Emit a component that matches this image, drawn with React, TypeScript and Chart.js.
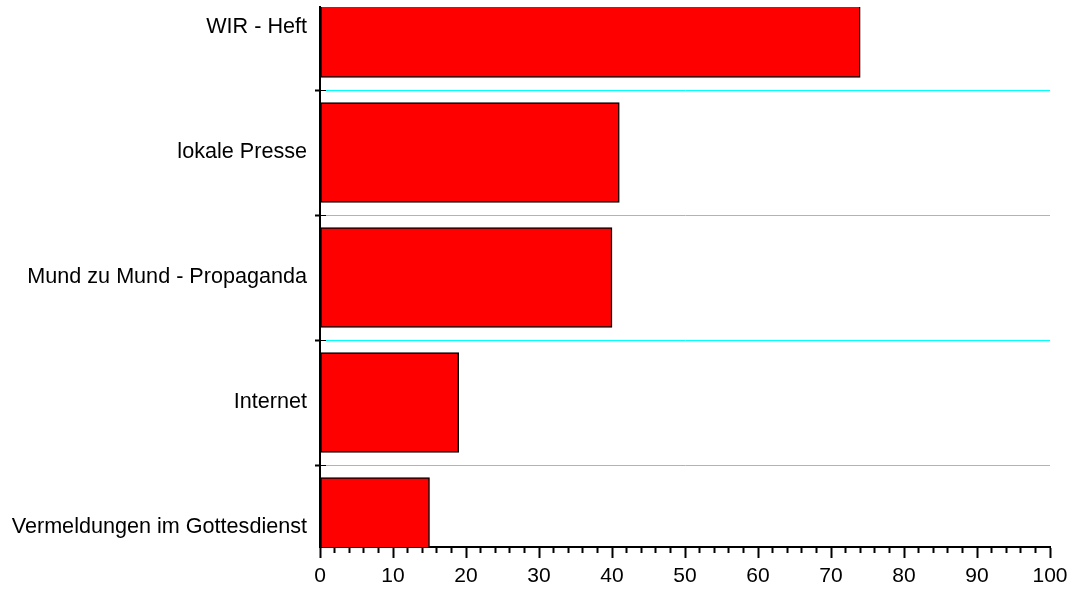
import React, { useEffect, useRef } from "react";
import { Chart, registerables } from "chart.js";

Chart.register(...registerables);

const categories = [
  "WIR - Heft",
  "lokale Presse",
  "Mund zu Mund - Propaganda",
  "Internet",
  "Vermeldungen im Gottesdienst",
];
const values = [74, 41, 40, 19, 15];
const xTickStep = 2;
const xLabelStep = 10;
const xMin = 0;
const xMax = 100;
const yMin = -0.164;
const yMax = 4.156;
const boundaryTicks = [0.5, 1.5, 2.5, 3.5];

export default function App() {
  const canvasRef = useRef<HTMLCanvasElement | null>(null);

  useEffect(() => {
    if (!canvasRef.current) return;
    const FONT = "'Liberation Sans', Arial, Helvetica, sans-serif";
    const yTicks = [
      ...categories.map((_, i) => i),
      ...boundaryTicks,
    ].sort((a, b) => a - b);
    const isBoundary = (v: number) => Math.abs(v - Math.round(v)) > 0.01;

    let gradCache: { left: number; g: CanvasGradient } | null = null;
    const gridGradient = (chart: any) => {
      const area = chart.chartArea;
      if (!area) return "#00ffff";
      if (!gradCache || gradCache.left !== area.left) {
        const g = chart.ctx.createLinearGradient(area.left, 0, area.left + 12, 0);
        g.addColorStop(0, "#000000");
        g.addColorStop(0.5, "#000000");
        g.addColorStop(0.5, "#00ffff");
        g.addColorStop(1, "#00ffff");
        gradCache = { left: area.left, g };
      }
      return gradCache.g;
    };

    const chart = new Chart(canvasRef.current, {
      type: "bar",
      data: {
        datasets: [
          {
            data: values.map((v, i) => ({ x: v, y: i })),
            backgroundColor: "#ff0000",
            borderColor: "#000000",
            borderWidth: 1.5,
            borderSkipped: false,
            barThickness: 100,
          },
        ],
      },
      options: {
        indexAxis: "y",
        animation: false,
        responsive: true,
        maintainAspectRatio: false,
        layout: { padding: { top: 7, right: 25, bottom: 0, left: 0 } },
        plugins: {
          legend: { display: false },
          tooltip: { enabled: false },
        },
        scales: {
          x: {
            type: "linear",
            position: "bottom",
            min: xMin,
            max: xMax,
            offset: false,
            afterBuildTicks: (scale: any) => {
              const t = [];
              for (let v = xMin; v <= xMax; v += xTickStep) t.push({ value: v });
              scale.ticks = t;
            },
            afterFit: (scale: any) => {
              scale.height = 43;
            },
            ticks: {
              autoSkip: false,
              maxRotation: 0,
              color: "#000",
              padding: 6,
              font: { family: FONT, size: 21 },
              callback: (v: any) => (Number(v) % xLabelStep === 0 ? String(v) : ""),
            },
            grid: {
              offset: false,
              drawOnChartArea: false,
              drawTicks: true,
              tickLength: 11,
              tickColor: "#000",
              tickWidth: 2,
              tickBorderDash: (ctx: any) =>
                ctx.tick && ctx.tick.value % xLabelStep === 0 ? [] : [5, 40],
            } as any,
            border: { display: true, color: "#000", width: 2 },
          },
          y: {
            type: "linear",
            position: "left",
            reverse: true,
            offset: false,
            min: yMin,
            max: yMax,
            afterBuildTicks: (scale: any) => {
              scale.ticks = yTicks.map((v) => ({ value: v }));
            },
            afterFit: (scale: any) => {
              scale.width = 320;
              scale.paddingTop = 0;
              scale.paddingBottom = 0;
            },
            ticks: {
              autoSkip: false,
              color: "#000",
              padding: 8,
              font: { family: FONT, size: 21.6 },
              callback: (v: any) => {
                const n = Number(v);
                return isBoundary(n) ? "" : categories[Math.round(n)];
              },
            },
            grid: {
              offset: false,
              drawOnChartArea: true,
              drawTicks: true,
              tickLength: 5,
              lineWidth: (ctx: any) => (ctx.tick && isBoundary(ctx.tick.value) ? 1 : 0),
              tickWidth: 2,
              color: (ctx: any) =>
                ctx.tick && isBoundary(ctx.tick.value)
                  ? gridGradient(ctx.chart)
                  : "rgba(0,0,0,0)",
              tickColor: (ctx: any) =>
                ctx.tick && isBoundary(ctx.tick.value) ? "#000" : "rgba(0,0,0,0)",
            } as any,
            border: { display: true, color: "#000", width: 2 },
          },
        },
      },
    } as any);

    return () => chart.destroy();
  }, []);

  return (
    <div
      style={{
        position: "absolute",
        left: 0,
        top: 0,
        width: 1075,
        height: 590,
        background: "#fff",
      }}
    >
      <canvas ref={canvasRef} />
    </div>
  );
}
